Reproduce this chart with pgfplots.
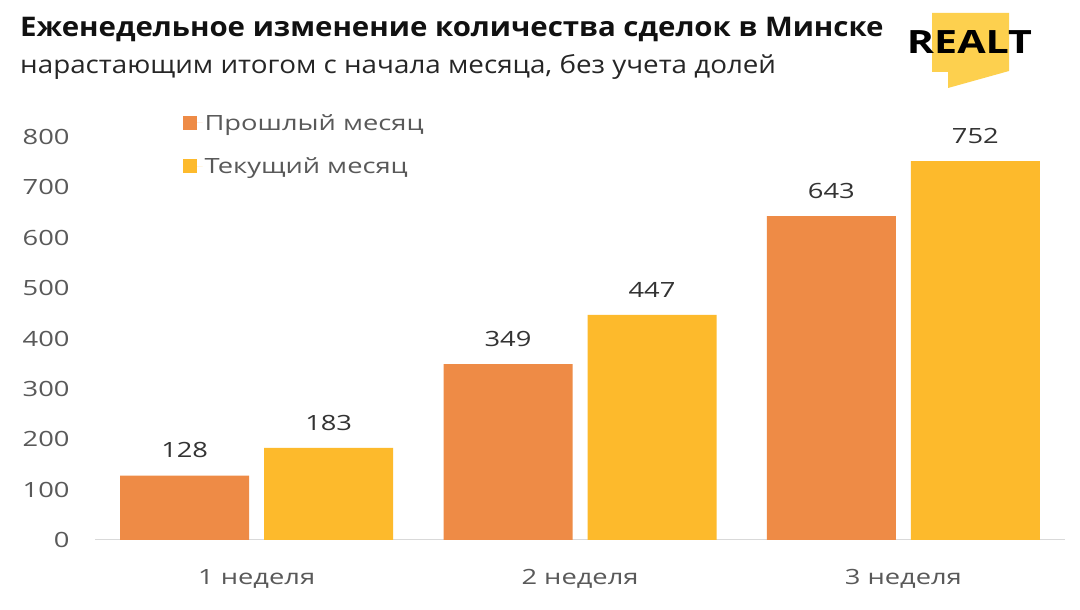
\documentclass[border=0pt]{standalone}
\usepackage{fontspec}
\setmainfont{Open Sans}
\newfontfamily\titlefont[FakeStretch=1.09]{Open Sans}
\newfontfamily\subfont[FakeStretch=1.12]{Open Sans}
\newfontfamily\chartfont[FakeStretch=1.3]{Open Sans}
\usepackage{pgfplots}
\pgfplotsset{compat=1.18}
\usepackage{graphicx}

\definecolor{prev}{HTML}{EE8B46}
\definecolor{curr}{HTML}{FDBA2C}
\definecolor{ticktxt}{HTML}{595959}
\definecolor{titletxt}{HTML}{111111}
\definecolor{subtxt}{HTML}{262626}
\definecolor{logoy}{HTML}{FDD04E}

\begin{document}
\begin{tikzpicture}
% canvas
\path[fill=white] (0pt,0pt) rectangle (1080pt,610pt);

% titles
\node[anchor=west, text=titletxt, font=\titlefont\fontsize{27}{31}\selectfont\bfseries, inner sep=0pt]
  at (20pt,580pt) {Еженедельное изменение количества сделок в Минске};
\node[anchor=west, text=subtxt, font=\subfont\fontsize{24.8}{28}\selectfont, inner sep=0pt]
  at (20pt,543pt) {нарастающим итогом с начала месяца, без учета долей};

% logo
\fill[logoy] (932pt,597pt) -- (1009pt,597pt) -- (1009pt,539pt) -- (948pt,522pt)
  -- (948pt,538pt) -- (932pt,538pt) -- cycle;
\node[anchor=center, inner sep=0pt] at (969.5pt,568pt)
  {\resizebox{125pt}{23pt}{\bfseries REALT}};

\begin{axis}[
  at={(95pt,70pt)}, anchor=south west,
  scale only axis,
  width=970pt, height=403pt,
  ybar=15pt, bar width=129pt,
  xmin=-0.5, xmax=2.5,
  ymin=0, ymax=800,
  xtick={0,1,2},
  xticklabels={1 неделя, 2 неделя, 3 неделя},
  ytick={0,100,...,800},
  axis x line*=bottom,
  axis y line*=left,
  x axis line style={draw=black!15, line width=1pt, -},
  y axis line style={draw=none},
  major tick length=0pt,
  ticklabel style={text=ticktxt, font=\chartfont\fontsize{21}{25}\selectfont},
  /pgf/number format/assume math mode=true,
  xticklabel style={yshift=-26pt},
  yticklabel style={xshift=-22pt},
  clip=false,
  nodes near coords,
  every node near coord/.append style={text=black!80, font=\chartfont\fontsize{21}{25}\selectfont, yshift=14pt},
  legend cell align=left,
  legend style={at={(0.087,1.067)}, anchor=north west, draw=none, fill=none,
    font=\chartfont\fontsize{21}{25}\selectfont, text=ticktxt, row sep=22pt},
  legend image code/.code={%
    \fill[#1] (0pt,-7pt) rectangle (14pt,7pt);
    \path (14pt,0pt) -- (20pt,0pt);},
]
\addplot[fill=prev, draw=none] coordinates {(0,128) (1,349) (2,643)};
\addplot[fill=curr, draw=none] coordinates {(0,183) (1,447) (2,752)};
\legend{Прошлый месяц, Текущий месяц}
\end{axis}
\end{tikzpicture}
\end{document}
